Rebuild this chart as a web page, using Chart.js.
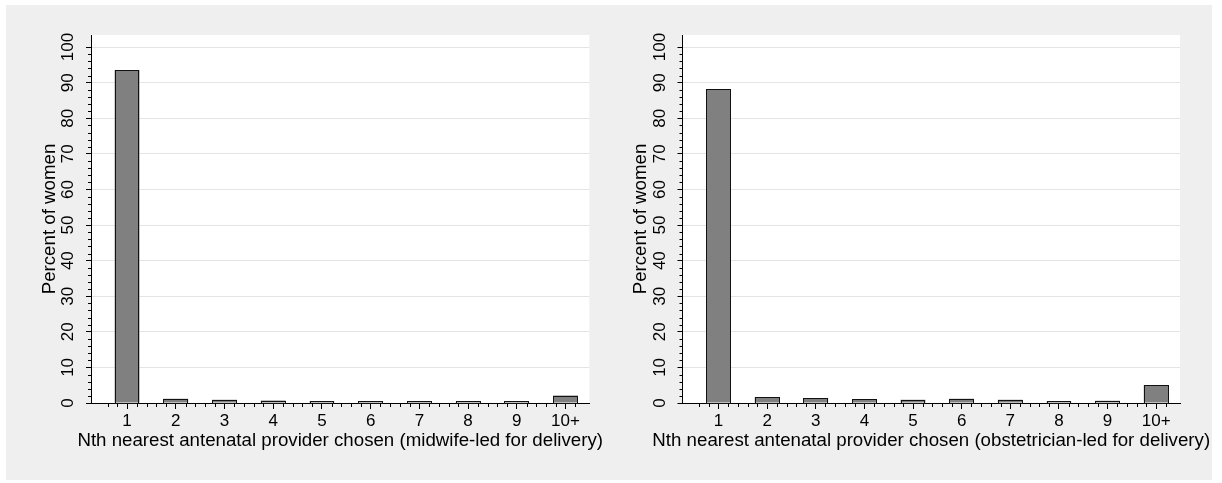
<!DOCTYPE html>
<html>
<head>
<meta charset="utf-8">
<script src="https://cdn.jsdelivr.net/npm/chart.js@4"></script>
<style>
  html, body { margin: 0; padding: 0; background: #ffffff; width: 1222px; height: 483px; overflow: hidden; }
  #bg { position: absolute; left: 6px; top: 5px; width: 1206px; height: 475px; background: #efefef; }
  canvas { position: absolute; top: 0; }
  #c1 { left: 0; }
  #c2 { left: 611px; }
</style>
</head>
<body>
<div id="bg"></div>
<canvas id="c1" width="611" height="483"></canvas>
<canvas id="c2" width="611" height="483"></canvas>
<script>
// Nth nearest provider categories
const categories = ['1', '2', '3', '4', '5', '6', '7', '8', '9', '10+'];

// Percent of women choosing the Nth nearest antenatal provider
const midwifeLed = [93.6, 1.2, 0.9, 0.7, 0.5, 0.5, 0.5, 0.3, 0.3, 2.1];
const obstetricianLed = [88.1, 1.6, 1.3, 1.1, 0.9, 1.2, 0.9, 0.4, 0.6, 5.0];

// Axis ticks and titles
const yTicks = [0, 10, 20, 30, 40, 50, 60, 70, 80, 90, 100];
const yMinorTicks = [];
for (let v = 2; v < 100; v += 2) if (v % 10 !== 0) yMinorTicks.push(v);
const xMinorTicks = [];
for (let k = 3; k <= 51; k++) if (k % 5 !== 0) xMinorTicks.push(k / 5);
const yTitle = 'Percent of women';
const xTitleMidwife = 'Nth nearest antenatal provider chosen (midwife-led for delivery)';
const xTitleObstetrician = 'Nth nearest antenatal provider chosen (obstetrician-led for delivery)';

const FONT = '"Liberation Sans", Arial, Helvetica, sans-serif';
const INK = '#000000';
const TICK_SIZE = 17;
const TITLE_SIZE = 18.7;

// Draws the white plot region, bar outlines, minor ticks, rotated y labels and axis titles
function panelPlugin(xTitle) {
  return {
    id: 'panelDecor',
    beforeDraw(chart) {
      const { ctx, chartArea: a } = chart;
      ctx.save();
      ctx.fillStyle = '#ffffff';
      ctx.fillRect(a.left, a.top, a.right - a.left, a.bottom - a.top);
      ctx.restore();
    },
    afterDatasetsDraw(chart) {
      // outline each bar with a stroke centred on its edges
      const { ctx } = chart;
      ctx.save();
      ctx.strokeStyle = '#111111';
      ctx.lineWidth = 1;
      chart.getDatasetMeta(0).data.forEach(bar => {
        const p = bar.getProps(['x', 'y', 'base', 'width'], true);
        const l = Math.round(p.x - p.width / 2) + 0.5;
        const r = Math.round(p.x + p.width / 2) - 0.5;
        const t = Math.round(p.y) + 0.5;
        const b = Math.round(p.base) + 0.5;
        ctx.strokeRect(l, Math.min(t, b - 2), r - l, Math.max(b - t, 2));
      });
      ctx.restore();
    },
    afterDraw(chart) {
      const { ctx, chartArea: a, scales } = chart;
      const xs = scales.x, ys = scales.y;
      ctx.save();
      ctx.strokeStyle = INK;
      ctx.lineWidth = 1;
      ctx.beginPath();
      yMinorTicks.forEach(v => {
        const y = Math.round(ys.getPixelForValue(v)) + 0.5;
        ctx.moveTo(a.left - 3, y);
        ctx.lineTo(a.left, y);
      });
      xMinorTicks.forEach(v => {
        const x = Math.round(xs.getPixelForValue(v)) + 0.5;
        ctx.moveTo(x, a.bottom);
        ctx.lineTo(x, a.bottom + 4);
      });
      ctx.stroke();

      // y tick labels, rotated to read upward
      ctx.fillStyle = INK;
      ctx.font = TICK_SIZE + 'px ' + FONT;
      ctx.textAlign = 'center';
      ctx.textBaseline = 'middle';
      ys.ticks.forEach(t => {
        const y = ys.getPixelForValue(t.value);
        ctx.save();
        ctx.translate(a.left - 22.5, y);
        ctx.rotate(-Math.PI / 2);
        ctx.fillText(String(t.value), 0, 0);
        ctx.restore();
      });

      // axis titles
      ctx.font = TITLE_SIZE + 'px ' + FONT;
      ctx.textBaseline = 'alphabetic';
      ctx.save();
      ctx.translate(a.left - 36.5, (a.top + a.bottom) / 2);
      ctx.rotate(-Math.PI / 2);
      ctx.fillText(yTitle, 0, 0);
      ctx.restore();
      ctx.fillText(xTitle, (a.left + a.right) / 2, 445.5);
      ctx.restore();
    }
  };
}

function makePanel(canvasId, values, xTitle, axisWidth, padRight) {
  return new Chart(document.getElementById(canvasId), {
    type: 'bar',
    data: {
      datasets: [{
        data: values.map((v, i) => ({ x: i + 1, y: v })),
        backgroundColor: '#808080',
        borderWidth: 0,
        barPercentage: 0.51,
        categoryPercentage: 1
      }]
    },
    options: {
      responsive: false,
      animation: false,
      devicePixelRatio: 1,
      layout: { padding: { left: 0, right: padRight, top: 35, bottom: 0 } },
      plugins: { legend: { display: false }, tooltip: { enabled: false } },
      scales: {
        x: {
          type: 'linear',
          min: 0.26,
          max: 10.49,
          offset: false,
          afterBuildTicks: s => { s.ticks = categories.map((c, i) => ({ value: i + 1 })); },
          afterFit: s => { s.height = 80; },
          ticks: {
            callback: v => categories[v - 1] ?? '',
            font: { family: FONT, size: TICK_SIZE },
            color: INK,
            padding: 2,
            maxRotation: 0,
            autoSkip: false
          },
          grid: { offset: false, drawOnChartArea: false, drawTicks: true, tickLength: 6, tickColor: INK, tickWidth: 1 },
          border: { color: INK, width: 1 }
        },
        y: {
          type: 'linear',
          min: 0,
          max: 103.4,
          afterBuildTicks: s => { s.ticks = yTicks.map(v => ({ value: v })); },
          afterFit: s => { s.width = axisWidth; },
          ticks: { display: false },
          grid: {
            color: c => (c.tick && c.tick.value === 0 ? 'rgba(0,0,0,0)' : '#e4e4e4'),
            lineWidth: 1,
            drawTicks: true,
            tickLength: 5,
            tickColor: INK,
            tickWidth: 1
          },
          border: { color: INK, width: 1 }
        }
      }
    },
    plugins: [panelPlugin(xTitle)]
  });
}

makePanel('c1', midwifeLed, xTitleMidwife, 91, 21.6);
makePanel('c2', obstetricianLed, xTitleObstetrician, 71.5, 42);
</script>
</body>
</html>
